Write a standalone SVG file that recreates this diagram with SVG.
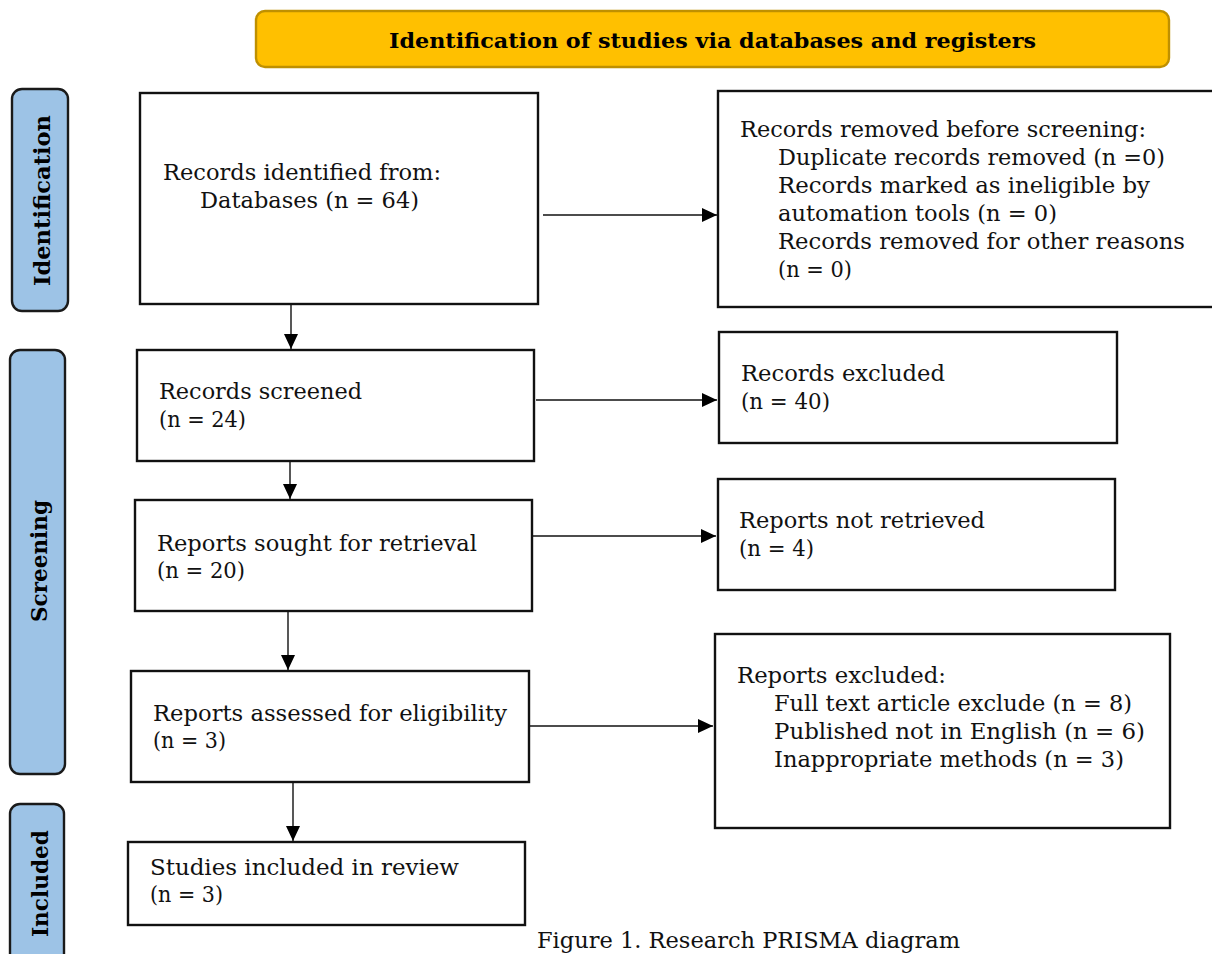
<svg xmlns="http://www.w3.org/2000/svg" width="1212" height="954" viewBox="0 0 1212 954">
<style>
.box{fill:#fff;stroke:#111;stroke-width:2.4}
.side{fill:#9DC3E6;stroke:#1a1a1a;stroke-width:2.4}
.t{font-family:"DejaVu Serif","Liberation Serif",serif;font-size:22px;fill:#111}
.b{font-family:"DejaVu Serif","Liberation Serif",serif;font-size:21px;font-weight:bold;fill:#000}
.s{font-family:"DejaVu Serif","Liberation Serif",serif;font-size:23px;font-weight:bold;fill:#000}
.c{stroke:#111;stroke-width:1.4;fill:none;marker-end:url(#ah)}
</style>
<defs>
<marker id="ah" markerUnits="userSpaceOnUse" markerWidth="16" markerHeight="14" refX="15" refY="7" orient="auto">
<path d="M0,0 L15,7 L0,14 Z" fill="#000"/>
</marker>
</defs>
<rect width="1212" height="954" fill="#fff"/>
<g id="title">
<rect x="256" y="11" width="913" height="56" rx="9" fill="#FFC000" stroke="#BF9000" stroke-width="2.4"/>
<text class="b" x="389" y="48" textLength="647" lengthAdjust="spacingAndGlyphs">Identification of studies via databases and registers</text>
</g>
<g id="side-identification">
<rect class="side" x="12" y="89" width="56" height="222" rx="10"/>
<text class="s" transform="translate(50,200.5) rotate(-90)" text-anchor="middle" textLength="171" lengthAdjust="spacingAndGlyphs">Identification</text>
</g>
<g id="side-screening">
<rect class="side" x="10" y="350" width="55" height="424" rx="10"/>
<text class="s" transform="translate(47,561) rotate(-90)" text-anchor="middle" textLength="122" lengthAdjust="spacingAndGlyphs">Screening</text>
</g>
<g id="side-included">
<rect class="side" x="10" y="804" width="54" height="170" rx="10"/>
<text class="s" transform="translate(48,883.5) rotate(-90)" text-anchor="middle" textLength="107" lengthAdjust="spacingAndGlyphs">Included</text>
</g>
<g id="identified">
<rect class="box" x="140" y="93" width="398" height="211"/>
<text class="t" x="163" y="180" textLength="278" lengthAdjust="spacingAndGlyphs">Records identified from:</text>
<text class="t" x="200" y="208" textLength="219" lengthAdjust="spacingAndGlyphs">Databases (n = 64)</text>
</g>
<g id="removed">
<rect class="box" x="718" y="91" width="510" height="216"/>
<text class="t" x="740" y="137" textLength="406" lengthAdjust="spacingAndGlyphs">Records removed before screening:</text>
<text class="t" x="778" y="165" textLength="387" lengthAdjust="spacingAndGlyphs">Duplicate records removed (n =0)</text>
<text class="t" x="778" y="193" textLength="372" lengthAdjust="spacingAndGlyphs">Records marked as ineligible by</text>
<text class="t" x="778" y="221" textLength="279" lengthAdjust="spacingAndGlyphs">automation tools (n = 0)</text>
<text class="t" x="778" y="249" textLength="407" lengthAdjust="spacingAndGlyphs">Records removed for other reasons</text>
<text class="t" x="778" y="277" textLength="74" lengthAdjust="spacingAndGlyphs">(n = 0)</text>
</g>
<g id="screened">
<rect class="box" x="137" y="350" width="397" height="111"/>
<text class="t" x="159" y="399" textLength="203" lengthAdjust="spacingAndGlyphs">Records screened</text>
<text class="t" x="159" y="427" textLength="87" lengthAdjust="spacingAndGlyphs">(n = 24)</text>
</g>
<g id="excluded">
<rect class="box" x="719" y="332" width="398" height="111"/>
<text class="t" x="741" y="381" textLength="204" lengthAdjust="spacingAndGlyphs">Records excluded</text>
<text class="t" x="741" y="409" textLength="89" lengthAdjust="spacingAndGlyphs">(n = 40)</text>
</g>
<g id="sought">
<rect class="box" x="135" y="500" width="397" height="111"/>
<text class="t" x="157" y="551" textLength="320" lengthAdjust="spacingAndGlyphs">Reports sought for retrieval</text>
<text class="t" x="157" y="578" textLength="88" lengthAdjust="spacingAndGlyphs">(n = 20)</text>
</g>
<g id="not-retrieved">
<rect class="box" x="718" y="479" width="397" height="111"/>
<text class="t" x="739" y="528" textLength="246" lengthAdjust="spacingAndGlyphs">Reports not retrieved</text>
<text class="t" x="739" y="556" textLength="75" lengthAdjust="spacingAndGlyphs">(n = 4)</text>
</g>
<g id="assessed">
<rect class="box" x="131" y="671" width="398" height="111"/>
<text class="t" x="153" y="721" textLength="354" lengthAdjust="spacingAndGlyphs">Reports assessed for eligibility</text>
<text class="t" x="153" y="748" textLength="73" lengthAdjust="spacingAndGlyphs">(n = 3)</text>
</g>
<g id="reports-excluded">
<rect class="box" x="715" y="634" width="455" height="194"/>
<text class="t" x="737" y="683" textLength="209" lengthAdjust="spacingAndGlyphs">Reports excluded:</text>
<text class="t" x="774" y="711" textLength="358" lengthAdjust="spacingAndGlyphs">Full text article exclude (n = 8)</text>
<text class="t" x="774" y="739" textLength="371" lengthAdjust="spacingAndGlyphs">Published not in English (n = 6)</text>
<text class="t" x="774" y="767" textLength="350" lengthAdjust="spacingAndGlyphs">Inappropriate methods (n = 3)</text>
</g>
<g id="included">
<rect class="box" x="128" y="842" width="397" height="83"/>
<text class="t" x="150" y="875" textLength="309" lengthAdjust="spacingAndGlyphs">Studies included in review</text>
<text class="t" x="150" y="902" textLength="73" lengthAdjust="spacingAndGlyphs">(n = 3)</text>
</g>
<g id="connectors">
<line class="c" x1="543" y1="215" x2="717" y2="215"/>
<line class="c" x1="291" y1="305" x2="291" y2="349"/>
<line class="c" x1="536" y1="400" x2="717" y2="400"/>
<line class="c" x1="290" y1="462" x2="290" y2="499"/>
<line class="c" x1="533" y1="536" x2="716" y2="536"/>
<line class="c" x1="288" y1="612" x2="288" y2="670"/>
<line class="c" x1="530" y1="726" x2="713" y2="726"/>
<line class="c" x1="293" y1="783" x2="293" y2="841"/>
</g>
<text class="t" x="537" y="948" textLength="423" lengthAdjust="spacingAndGlyphs">Figure 1. Research PRISMA diagram</text>
</svg>
